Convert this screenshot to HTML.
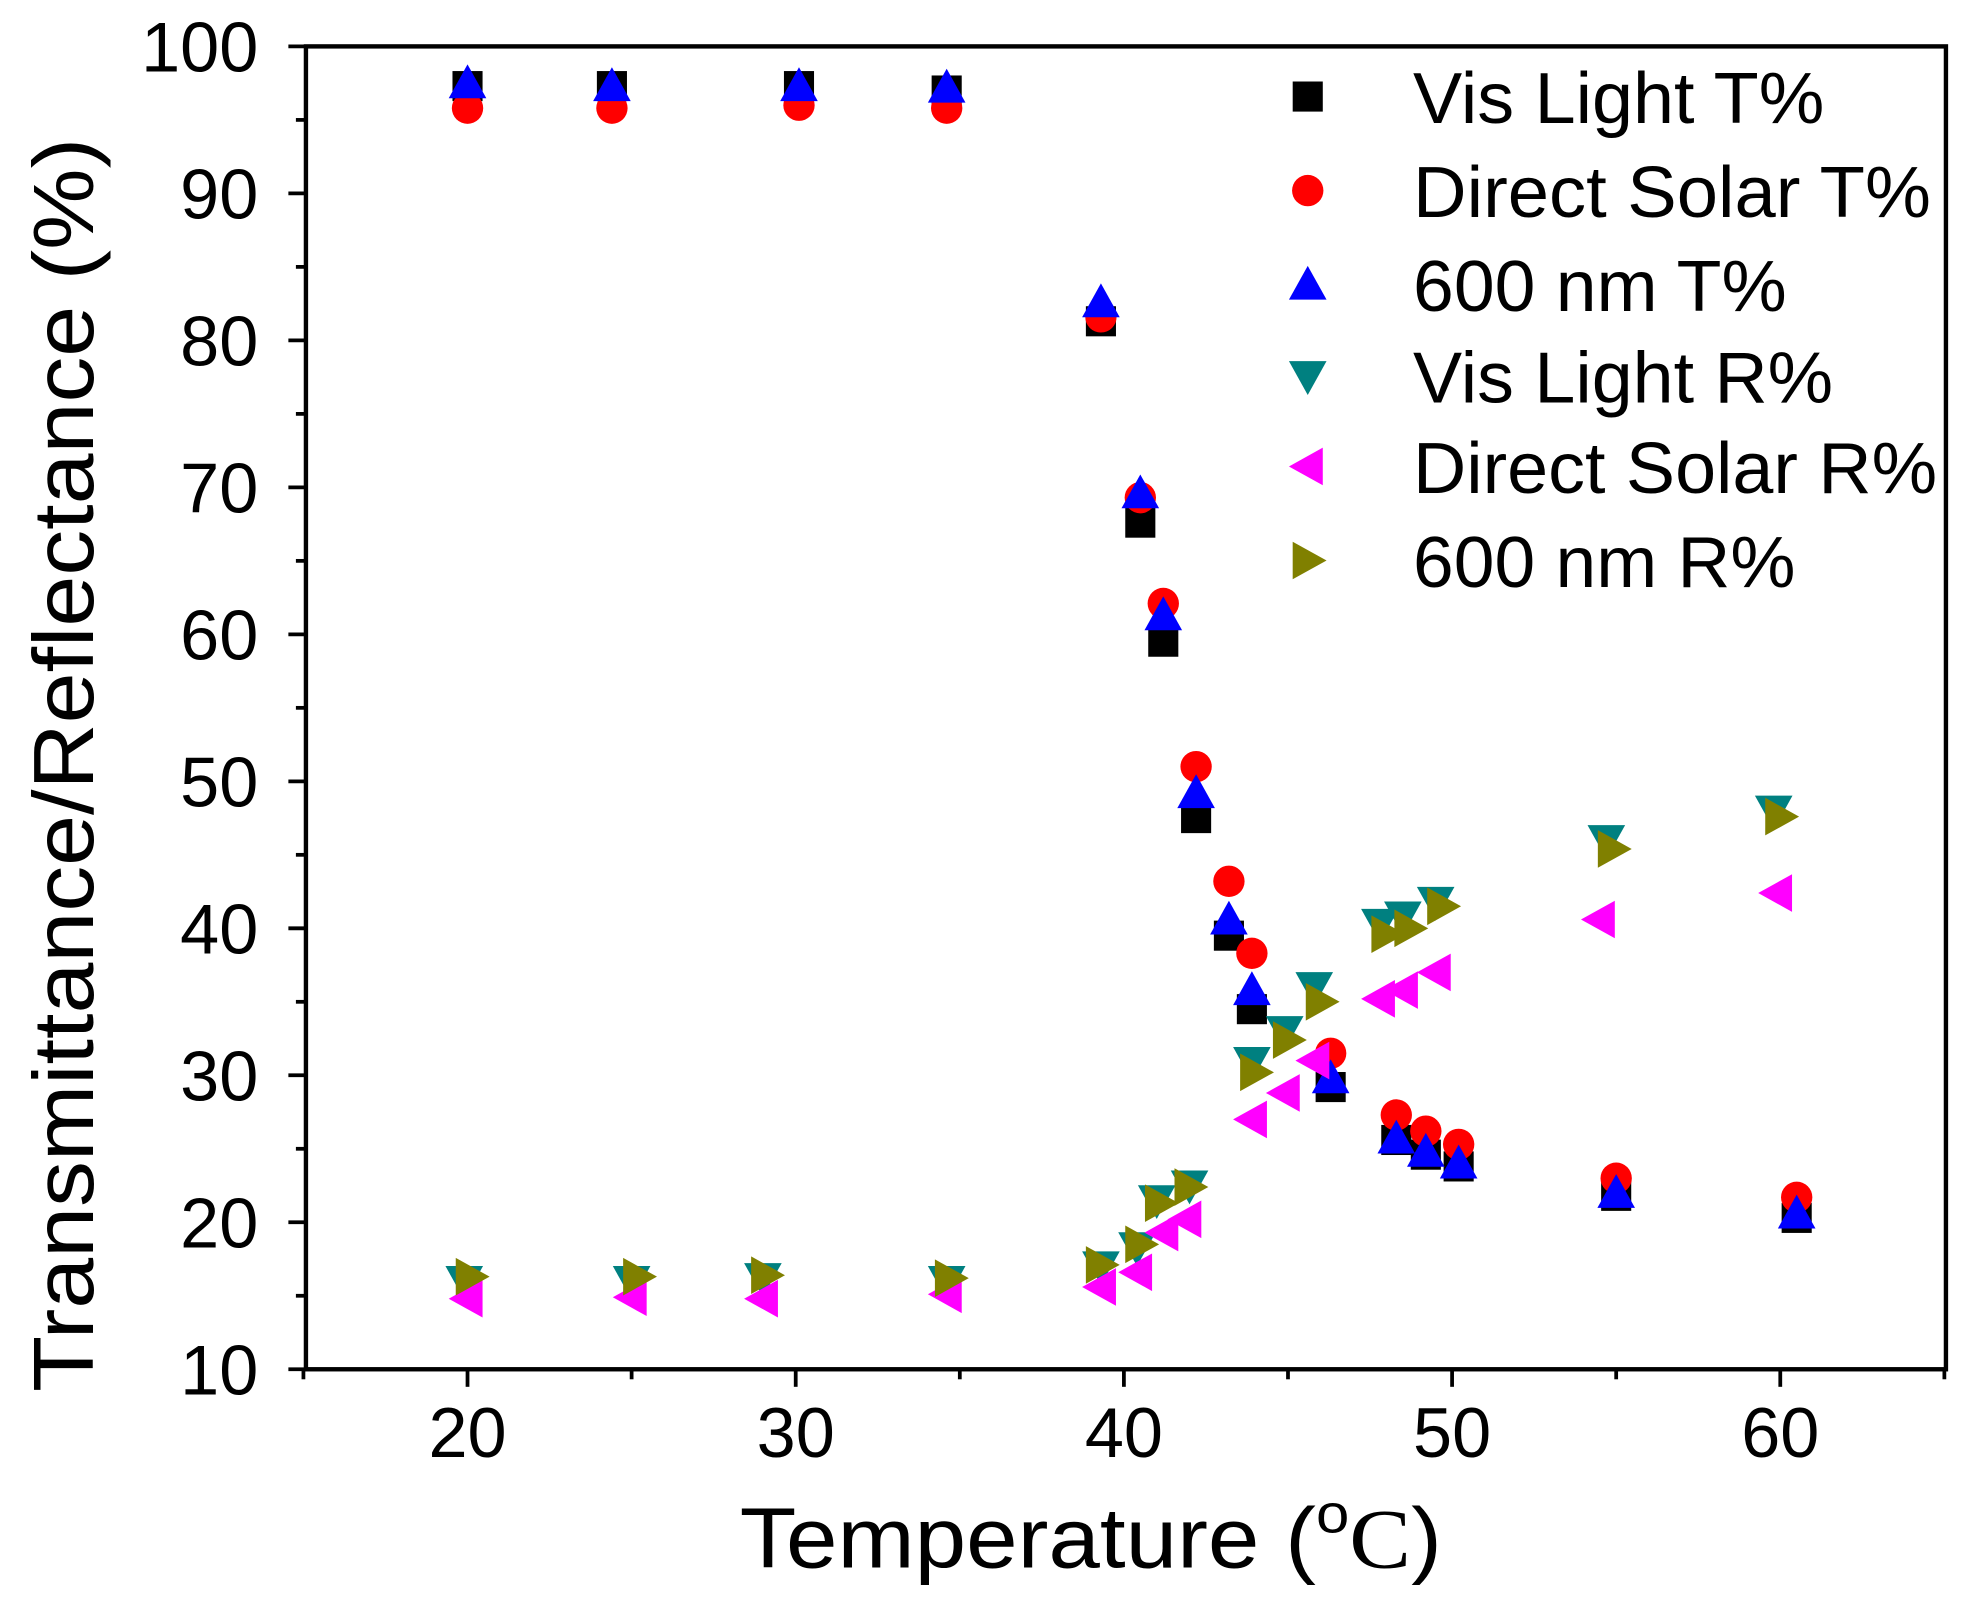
<!DOCTYPE html>
<html><head><meta charset="utf-8"><style>html,body{margin:0;padding:0;background:#fff}svg{display:block}</style></head>
<body>
<svg id="s" width="1966" height="1605" viewBox="0 0 1568 1280" preserveAspectRatio="none" xmlns="http://www.w3.org/2000/svg" font-family="Liberation Sans, Arial, sans-serif">
<rect x="0" y="0" width="1568" height="1280" fill="#fff"/>
<g id="ticks" stroke="#000" stroke-width="3"></g>
<g id="labels" font-size="56" fill="#000"></g>
<g id="pts"></g>
<rect x="244" y="37" width="1308" height="1055" fill="none" stroke="#000" stroke-width="3.5"/>
<text x="0" y="0" font-size="68" transform="translate(74,610) rotate(-90)" text-anchor="middle" textLength="1000" lengthAdjust="spacingAndGlyphs">Transmittance/Reflectance (%)</text>
<text x="590" y="1250" font-size="68" textLength="560" lengthAdjust="spacingAndGlyphs">Temperature (<tspan font-size="44" dy="-28">o</tspan><tspan dy="28" font-family="Liberation Serif, serif">C</tspan>)</text>
<g font-size="58" fill="#000" lengthAdjust="spacingAndGlyphs">
<text x="1127" y="98" textLength="328" lengthAdjust="spacingAndGlyphs">Vis Light T%</text>
<text x="1127" y="173" textLength="413" lengthAdjust="spacingAndGlyphs">Direct Solar T%</text>
<text x="1127" y="248" textLength="298" lengthAdjust="spacingAndGlyphs">600 nm T%</text>
<text x="1127" y="321" textLength="335" lengthAdjust="spacingAndGlyphs">Vis Light R%</text>
<text x="1127" y="393" textLength="418" lengthAdjust="spacingAndGlyphs">Direct Solar R%</text>
<text x="1127" y="468" textLength="305" lengthAdjust="spacingAndGlyphs">600 nm R%</text>
</g>
</svg>
<script>
var NS="http://www.w3.org/2000/svg";
function X(v){return 242+(v-15)*26.175;}
function Y(v){return 1092-(v-10)*11.722;}
function el(t,a,p){var e=document.createElementNS(NS,t);for(var k in a)e.setAttribute(k,a[k]);(p||document.getElementById('pts')).appendChild(e);return e;}
var tk=document.getElementById('ticks'),lb=document.getElementById('labels');
for(var v=10;v<=100;v+=5){var y=Y(v);el('line',{x1:244,x2:v%10==0?230:236,y1:y,y2:y},tk);
 if(v%10==0){var t=el('text',{x:206,y:y+20,'text-anchor':'end'},lb);t.textContent=v;}}
for(var v=15;v<=65;v+=5){var x=X(v);el('line',{x1:x,x2:x,y1:1092,y2:v%10==0?1106:1100},tk);
 if(v%10==0&&v>=20&&v<=60){var t=el('text',{x:x,y:1162,'text-anchor':'middle'},lb);t.textContent=v;}}
function sq(x,y,c){el('rect',{x:x-12,y:y-12,width:24,height:24,fill:c});}
function ci(x,y,c){el('circle',{cx:x,cy:y,r:12.5,fill:c});}
function up(x,y,c){el('polygon',{points:(x-15)+','+(y+12)+' '+(x+15)+','+(y+12)+' '+x+','+(y-15),fill:c});}
function dn(x,y,c){el('polygon',{points:(x-15)+','+(y-12)+' '+(x+15)+','+(y-12)+' '+x+','+(y+15),fill:c});}
function lf(x,y,c){el('polygon',{points:(x+12)+','+(y-15)+' '+(x+12)+','+(y+15)+' '+(x-15)+','+y,fill:c});}
function rt(x,y,c){el('polygon',{points:(x-12)+','+(y-15)+' '+(x-12)+','+(y+15)+' '+(x+15)+','+y,fill:c});}
var S=[
[sq,'#000',[[20,97.3],[24.4,97.3],[30.1,97.3],[34.6,97],[39.3,81.3],[40.5,67.6],[41.2,59.5],[42.2,47.5],[43.2,39.5],[43.9,34.5],[46.3,29.2],[48.3,25.6],[49.2,24.6],[50.2,23.8],[55,21.8],[60.5,20.3]]],
[ci,'#f00',[[20,95.8],[24.4,95.8],[30.1,96],[34.6,95.8],[39.3,81.6],[40.5,69.3],[41.2,62.1],[42.2,51],[43.2,43.2],[43.9,38.3],[46.3,31.5],[48.3,27.3],[49.2,26.2],[50.2,25.3],[55,23],[60.5,21.7]]],
[up,'#00f',[[20,97.5],[24.4,97.3],[30.1,97.3],[34.6,97.2],[39.3,82.6],[40.5,69.6],[41.2,61.3],[42.2,49.2],[43.2,40.6],[43.9,35.8],[46.3,29.8],[48.3,25.7],[49.2,24.8],[50.2,24],[55,22],[60.5,20.6]]],
[dn,'#008080',[[19.9,16],[25,16],[29,16.2],[34.6,16],[39.3,17],[40.4,18.3],[41,21.5],[42,22.5],[43.9,30.9],[44.9,33],[45.8,36],[47.8,40.3],[48.5,40.8],[49.5,41.8],[54.7,46],[59.8,48]]],
[lf,'#f0f',[[20,14.8],[25,14.9],[29,14.8],[34.6,15.1],[39.3,15.6],[40.4,16.6],[41.2,19.3],[41.9,20.2],[43.9,27],[44.9,28.8],[45.8,31],[47.8,35.2],[48.5,35.8],[49.5,37],[54.5,40.6],[59.9,42.4]]],
[rt,'#808000',[[20.1,16.3],[25.2,16.3],[29.1,16.4],[34.7,16.2],[39.3,17.1],[40.5,18.5],[41.1,21.3],[42,22.4],[44,30.2],[45,32.4],[46,35],[48,39.6],[48.7,40],[49.7,41.5],[54.9,45.4],[60,47.6]]]];
var ly=[77,152,227,300,372,447];
S.forEach(function(s,i){s[2].forEach(function(p){s[0](X(p[0]),Y(p[1]),s[1]);});s[0](1043,ly[i],s[1]);});
</script>
</body></html>
